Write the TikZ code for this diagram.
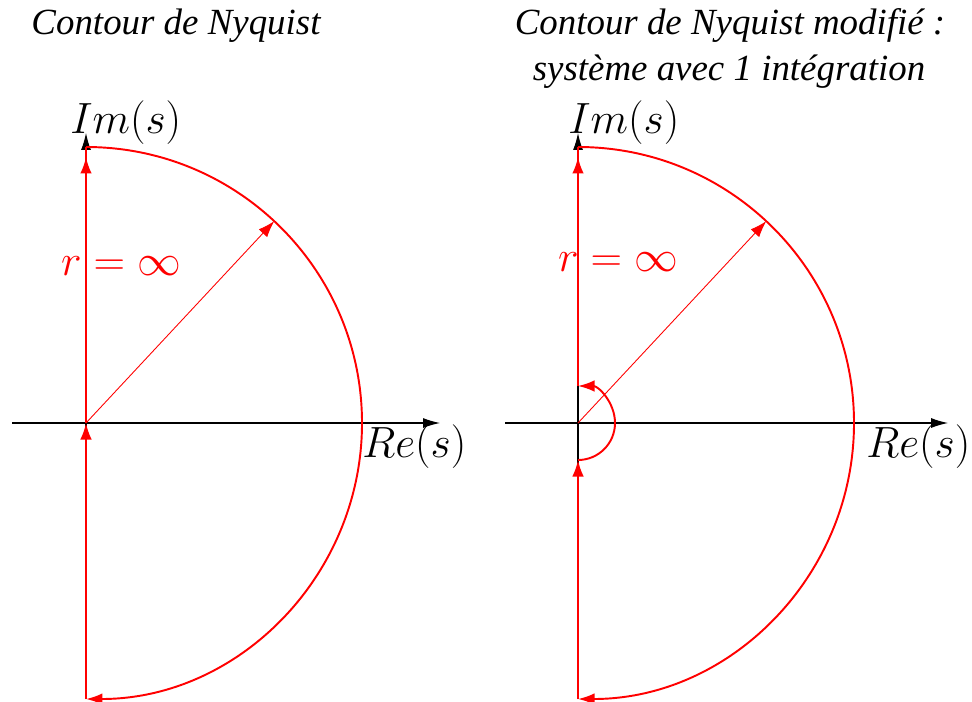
\documentclass[tikz,border=0pt]{standalone}
\usepackage{fontspec}
\setmainfont{Liberation Serif}
\definecolor{nyqRouge}{HTML}{FF0000}
\usepackage{tikz}
\usetikzlibrary{
	arrows.meta,
	positioning,
	calc
}
\tikzset{
	axe/.style={
		-{Latex[length=3.4mm,width=2mm]},
		line width=0.6pt,
		black
	},
	contour/.style={
		line width=1.1pt,
		nyqRouge
	},
	fleche/.style={
		-{Latex[length=3.3mm,width=2.3mm]},
		line width=1.1pt,
		nyqRouge
	},
	rayon/.style={
		-{Latex[length=3.3mm,width=2.3mm]},
		line width=0.5pt,
		nyqRouge
	},
	titre/.style={
		font=\fontsize{21}{26.5}\selectfont\itshape,
		align=center,
		inner sep=0pt
	},
	axelabel/.style={
		font=\fontsize{25}{30}\selectfont,
		inner sep=0pt
	},
	rlabel/.style={
		font=\fontsize{25}{30}\selectfont,
		text=nyqRouge,
		inner sep=0pt
	}
}

\begin{document}
\begin{tikzpicture}[x=0.02cm,y=0.02cm]
	\useasboundingbox (0,0) rectangle (972,701);
	% titres
	\node[titre, anchor=base] (titreG) at (176,666) {Contour de Nyquist};
	\node[titre, anchor=base] (titreD) at (730,666) {Contour de Nyquist modifié :};
	\node[titre, anchor=base] (titreD2) at (729,621) {système avec 1 intégration};
	% contour de Nyquist
	\begin{scope}[shift={(86,278)}]
		\coordinate (oG) at (0,0);
		\coordinate (hautG) at (0,276);
		\coordinate (basG) at (0,-276);
		\coordinate (pointeG) at (0,266);
		\draw[axe] (-74,0) -- (354,0);
		\draw[axe] (basG) -- (0,290);
		\draw[fleche] (basG) -- (oG);
		\draw[contour] (oG) -- (hautG);
		\draw[fleche] (oG) -- (pointeG);
		\draw[fleche] (hautG) arc (90:-90:276);
		\draw[rayon] (oG) -- (47:276);
		\node[axelabel, anchor=base west] (imG) at (-16,290) {$Im(s)$};
		\node[axelabel, anchor=base west] (reG) at (276,-34) {$Re(s)$};
		\node[rlabel] (rG) at (35,157) {$r=\infty$};
	\end{scope}
	% contour modifie
	\begin{scope}[shift={(578,278)}]
		\coordinate (oD) at (0,0);
		\coordinate (hautD) at (0,276);
		\coordinate (basD) at (0,-276);
		\coordinate (pointeD) at (0,266);
		\coordinate (petitBas) at (0,-37);
		\coordinate (petitHaut) at (0,37);
		\draw[axe] (-73,0) -- (370,0);
		\draw[axe] (basD) -- (0,290);
		\draw[fleche] (basD) -- (petitBas);
		\draw[fleche] (petitBas) arc (-90:90:37);
		\draw[contour] (petitHaut) -- (hautD);
		\draw[fleche] (petitHaut) -- (pointeD);
		\draw[fleche] (hautD) arc (90:-90:276);
		\draw[rayon] (oD) -- (47:276);
		\node[axelabel, anchor=base west] (imD) at (-10,290) {$Im(s)$};
		\node[axelabel, anchor=base west] (reD) at (288,-34) {$Re(s)$};
		\node[rlabel] (rD) at (40,161) {$r=\infty$};
	\end{scope}
\end{tikzpicture}
\end{document}
